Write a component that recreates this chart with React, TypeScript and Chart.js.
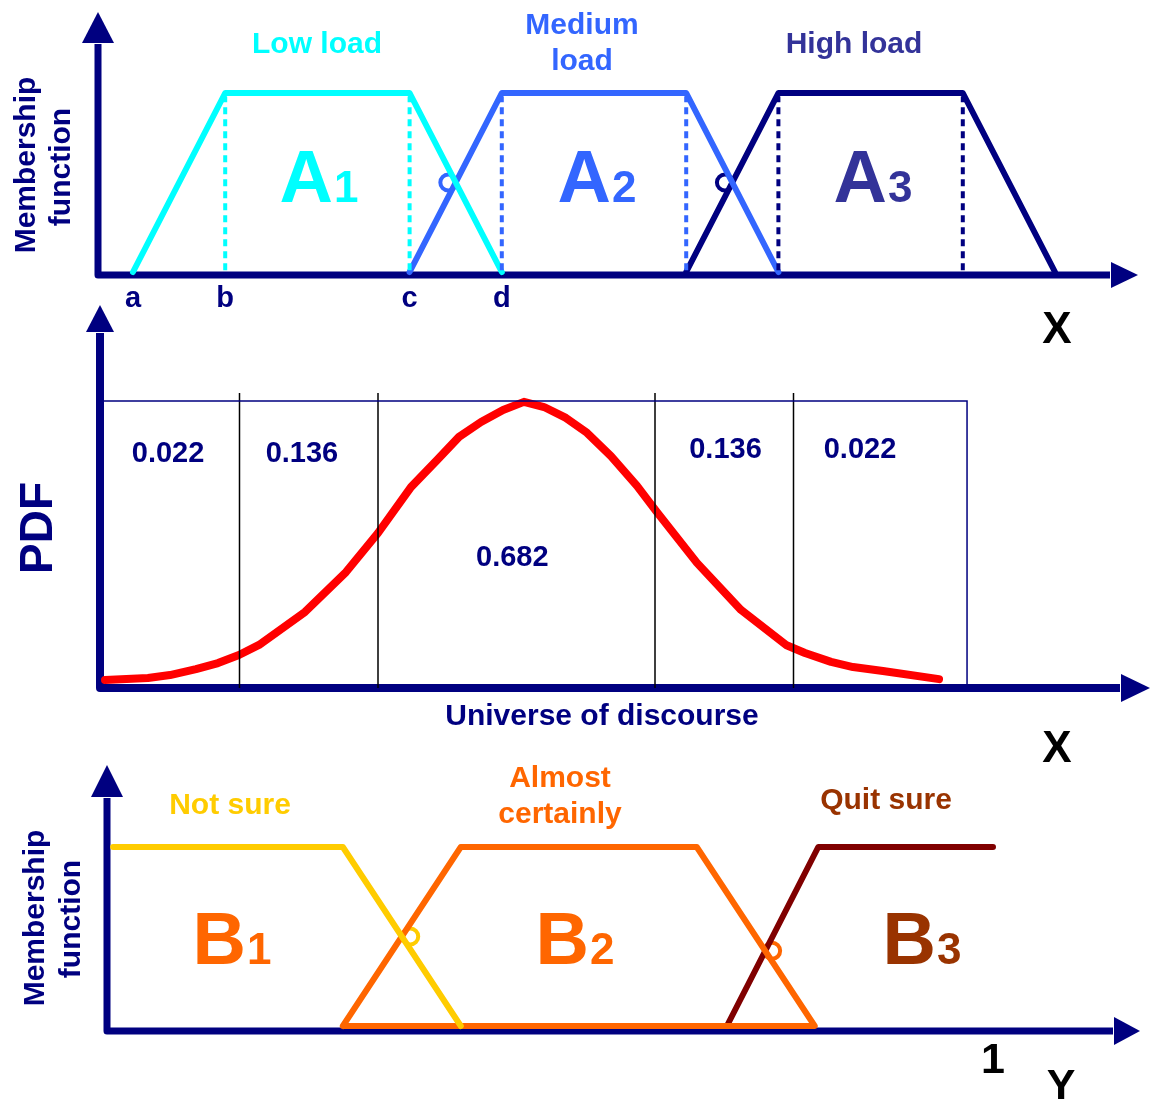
import React, { useEffect, useRef } from "react";
import { Chart, registerables } from "chart.js";

Chart.register(...registerables);

const W = 1154;
const H = 1102;
const FONT = '"Liberation Sans", Arial, Helvetica, sans-serif';
const NAVY = "#000080";

// ---------- Panel 1: input membership functions ----------
const tickLabelsX = ["a", "b", "c", "d"];
const tickValuesX = [0, 1, 3, 4];
const lowLoadX = [0, 1, 3, 4];
const lowLoadY = [0, 1, 1, 0];
const mediumLoadX = [3, 4, 6, 7];
const mediumLoadY = [0, 1, 1, 0];
const highLoadX = [6, 7, 9, 10];
const highLoadY = [0, 1, 1, 0];
const lowCore = [1, 3];
const mediumCore = [4, 6];
const highCore = [7, 9];
const crossingsAX = [3.42, 6.42];
const crossingsAY = [0.5, 0.5];

// ---------- Panel 2: PDF ----------
const pdfX = [-2.971, -2.661, -2.502, -2.314, -2.155, -2.004, -1.859, -1.527, -1.231, -1.0, -0.762, -0.574, -0.415, -0.256, -0.097, 0.054, 0.199, 0.357, 0.509, 0.682, 0.87, 1.007, 1.303, 1.621, 1.946, 2.083, 2.271, 2.43, 2.646, 3.051];
const pdfY = [0.028, 0.035, 0.045, 0.066, 0.087, 0.115, 0.15, 0.265, 0.404, 0.54, 0.7, 0.794, 0.875, 0.927, 0.969, 0.997, 0.979, 0.941, 0.889, 0.808, 0.704, 0.617, 0.436, 0.272, 0.15, 0.122, 0.091, 0.073, 0.059, 0.031];
const sigmaBounds = [-2, -1, 1, 2];
const boxX = [-3.007, 3.253];
const intervalProbabilities = ["0.022", "0.136", "0.682", "0.136", "0.022"];

// ---------- Panel 3: output membership functions ----------
const notSureX = [0.008, 0.267, 0.4];
const notSureY = [1, 1, 0];
const almostX = [0.267, 0.4, 0.666, 0.799, 0.267];
const almostY = [0, 1, 1, 0, 0];
const quitSureX = [0.7, 0.803, 1.0];
const quitSureY = [0, 1, 1];
const crossingsBX = [0.343, 0.751];
const crossingsBY = [0.5, 0.42];
const outputTickLabels = ["1"];
const outputTickValues = [1];

const pts = (xs: number[], ys: number[]) => xs.map((x, i) => ({ x, y: ys[i] }));
const vlines = (xs: number[], y0: number, y1: number) =>
  xs.flatMap((x) => [{ x, y: y0 }, { x, y: y1 }, { x, y: null as any }]);

function xRange(v0: number, p0: number, v1: number, p1: number) {
  const k = (p1 - p0) / (v1 - v0);
  const min = v0 - p0 / k;
  return { min, max: min + W / k };
}
function yRange(v0: number, p0: number, v1: number, p1: number) {
  const k = (p0 - p1) / (v1 - v0);
  const max = v1 + p1 / k;
  return { min: max - H / k, max };
}

function line(data: any[], color: string, width: number, xId: string, yId: string, extra: any = {}) {
  return {
    data,
    borderColor: color,
    backgroundColor: color,
    borderWidth: width,
    pointRadius: 0,
    fill: false,
    tension: 0,
    spanGaps: false,
    borderJoinStyle: "round",
    borderCapStyle: "round",
    xAxisID: xId,
    yAxisID: yId,
    ...extra,
  };
}

function text(ctx: CanvasRenderingContext2D, s: string, x: number, y: number, size: number, color: string, rotate = false, align: CanvasTextAlign = "center") {
  ctx.save();
  ctx.font = `bold ${size}px ${FONT}`;
  ctx.fillStyle = color;
  ctx.textAlign = align;
  ctx.textBaseline = "alphabetic";
  ctx.translate(x, y);
  if (rotate) ctx.rotate(-Math.PI / 2);
  ctx.fillText(s, 0, 0);
  ctx.restore();
}

function subLabel(ctx: CanvasRenderingContext2D, main: string, sub: string, cx: number, base: number, color: string) {
  ctx.save();
  ctx.fillStyle = color;
  ctx.textBaseline = "alphabetic";
  ctx.textAlign = "left";
  ctx.font = `bold 74px ${FONT}`;
  const wm = ctx.measureText(main).width;
  ctx.font = `bold 44px ${FONT}`;
  const ws = ctx.measureText(sub).width;
  const start = cx - (wm + 1 + ws) / 2;
  ctx.font = `bold 74px ${FONT}`;
  ctx.fillText(main, start, base);
  ctx.font = `bold 44px ${FONT}`;
  ctx.fillText(sub, start + wm + 1, base);
  ctx.restore();
}

function axes(ctx: CanvasRenderingContext2D, ax: number, ay: number, topBase: number, topTip: number, topHalf: number, rightBase: number, rightTip: number, rightHalf: number, lw: number) {
  ctx.save();
  ctx.strokeStyle = NAVY;
  ctx.fillStyle = NAVY;
  ctx.lineWidth = lw;
  ctx.lineJoin = "round";
  ctx.lineCap = "butt";
  ctx.beginPath();
  ctx.moveTo(ax, topBase + 1);
  ctx.lineTo(ax, ay);
  ctx.lineTo(rightBase - 1, ay);
  ctx.stroke();
  ctx.beginPath();
  ctx.moveTo(ax, topTip);
  ctx.lineTo(ax - topHalf, topBase);
  ctx.lineTo(ax + topHalf, topBase);
  ctx.closePath();
  ctx.fill();
  ctx.beginPath();
  ctx.moveTo(rightTip, ay);
  ctx.lineTo(rightBase, ay - rightHalf);
  ctx.lineTo(rightBase, ay + rightHalf);
  ctx.closePath();
  ctx.fill();
  ctx.restore();
}

const decorPlugin = {
  id: "decor",
  beforeDraw(chart: any) {
    const ctx = chart.ctx;
    ctx.save();
    ctx.fillStyle = "#ffffff";
    ctx.fillRect(0, 0, W, H);
    ctx.restore();
  },
  beforeDatasetsDraw(chart: any) {
    const ctx = chart.ctx as CanvasRenderingContext2D;
    axes(ctx, 98, 275, 43, 12, 16, 1111, 1138, 13, 7);
    axes(ctx, 100, 688, 332, 305, 14, 1121, 1150, 14, 8);
    axes(ctx, 107, 1031, 797, 765, 16, 1114, 1140, 14, 7);
  },
  afterDatasetsDraw(chart: any) {
    const ctx = chart.ctx as CanvasRenderingContext2D;
    const s = chart.scales;
    // Panel 1
    text(ctx, "Membership", 35, 165, 30, NAVY, true);
    text(ctx, "function", 70, 167, 30, NAVY, true);
    text(ctx, "Low load", 317, 53, 30, "#00FFFF");
    text(ctx, "Medium", 582, 34, 30, "#3366FF");
    text(ctx, "load", 582, 70, 30, "#3366FF");
    text(ctx, "High load", 854, 53, 30, "#333399");
    subLabel(ctx, "A", "1", 319, 202, "#00FFFF");
    subLabel(ctx, "A", "2", 597, 202, "#3366FF");
    subLabel(ctx, "A", "3", 873, 202, "#333399");
    tickLabelsX.forEach((t, i) => text(ctx, t, s.x1.getPixelForValue(tickValuesX[i]), 307, 29, NAVY));
    text(ctx, "X", 1057, 343, 44, "#000000");
    // Panel 2
    text(ctx, "PDF", 52, 528, 46, NAVY, true);
    const labX = [-2.516, -1.549, -0.03, 1.509, 2.48];
    const labY = [0.787, 0.787, 0.425, 0.801, 0.801];
    intervalProbabilities.forEach((t, i) =>
      text(ctx, t, s.x2.getPixelForValue(labX[i]), s.y2.getPixelForValue(labY[i]), 29, NAVY)
    );
    text(ctx, "Universe of discourse", 602, 725, 30, NAVY);
    text(ctx, "X", 1057, 762, 44, "#000000");
    // Panel 3
    text(ctx, "Membership", 44, 918, 30, NAVY, true);
    text(ctx, "function", 80, 919, 30, NAVY, true);
    text(ctx, "Not sure", 230, 814, 30, "#FFCC00");
    text(ctx, "Almost", 560, 787, 30, "#FF6600");
    text(ctx, "certainly", 560, 823, 30, "#FF6600");
    text(ctx, "Quit sure", 886, 809, 30, "#993300");
    subLabel(ctx, "B", "1", 232, 964, "#FF6600");
    subLabel(ctx, "B", "2", 575, 964, "#FF6600");
    subLabel(ctx, "B", "3", 922, 964, "#993300");
    outputTickLabels.forEach((t, i) => text(ctx, t, s.x3.getPixelForValue(outputTickValues[i]), 1073, 43, "#000000"));
    text(ctx, "Y", 1061, 1099, 43, "#000000");
  },
};

export default function App() {
  const ref = useRef<HTMLCanvasElement | null>(null);

  useEffect(() => {
    if (!ref.current) return;
    const datasets: any[] = [
      // Panel 1
      line(vlines(lowCore, 0.01, 0.98), "#00FFFF", 4, "x1", "y1", { borderDash: [7, 5], borderCapStyle: "butt" }),
      line(vlines(mediumCore, 0.01, 0.98), "#3366FF", 4, "x1", "y1", { borderDash: [7, 5], borderCapStyle: "butt" }),
      line(vlines(highCore, 0.01, 0.98), NAVY, 4, "x1", "y1", { borderDash: [7, 5], borderCapStyle: "butt" }),
      line(pts(lowLoadX, lowLoadY), "#00FFFF", 6, "x1", "y1"),
      line(pts(mediumLoadX, mediumLoadY), "#3366FF", 6, "x1", "y1"),
      line(pts(highLoadX, highLoadY), NAVY, 6, "x1", "y1"),
      {
        data: pts(crossingsAX, crossingsAY),
        showLine: false,
        pointRadius: 8,
        pointBorderWidth: 4,
        pointBorderColor: ["#3366FF", NAVY],
        pointBackgroundColor: "rgba(0,0,0,0)",
        xAxisID: "x1",
        yAxisID: "y1",
      },
      // Panel 2
      line(pts([boxX[0], boxX[0], boxX[1], boxX[1]], [0, 1, 1, 0]), NAVY, 1.5, "x2", "y2", { borderCapStyle: "butt", borderJoinStyle: "miter" }),
      line(vlines(sigmaBounds, 0, 1.028), "#000000", 1.5, "x2", "y2", { borderCapStyle: "butt" }),
      line(pts(pdfX, pdfY), "#FF0000", 8, "x2", "y2"),
      // Panel 3
      line(pts(notSureX, notSureY), "#FFCC00", 6, "x3", "y3"),
      line(pts(almostX, almostY), "#FF6600", 6, "x3", "y3"),
      line(pts(quitSureX, quitSureY), "#800000", 6, "x3", "y3"),
      {
        data: pts(crossingsBX, crossingsBY),
        showLine: false,
        pointRadius: 8,
        pointBorderWidth: 4,
        pointBorderColor: ["#FFCC00", "#FF6600"],
        pointBackgroundColor: "rgba(0,0,0,0)",
        xAxisID: "x3",
        yAxisID: "y3",
      },
    ];

    const hidden = { display: false, type: "linear" as const };
    const chart = new Chart(ref.current, {
      type: "line",
      data: { datasets },
      options: {
        animation: false,
        responsive: false,
        devicePixelRatio: 1,
        events: [],
        layout: { padding: 0, autoPadding: false },
        plugins: { legend: { display: false }, tooltip: { enabled: false } },
        scales: {
          x1: { ...hidden, axis: "x", ...xRange(0, 133, 10, 1055) },
          y1: { ...hidden, axis: "y", ...yRange(0, 272, 1, 93) },
          x2: { ...hidden, axis: "x", ...xRange(0, 516.5, 1, 655) },
          y2: { ...hidden, axis: "y", ...yRange(0, 688, 1, 401) },
          x3: { ...hidden, axis: "x", ...xRange(0, 106, 1, 993) },
          y3: { ...hidden, axis: "y", ...yRange(0, 1026, 1, 847) },
        } as any,
      },
      plugins: [decorPlugin],
    });
    return () => chart.destroy();
  }, []);

  return (
    <div style={{ position: "absolute", left: 0, top: 0, width: W, height: H, background: "#fff" }}>
      <canvas ref={ref} width={W} height={H} style={{ display: "block", width: W, height: H }} />
    </div>
  );
}
